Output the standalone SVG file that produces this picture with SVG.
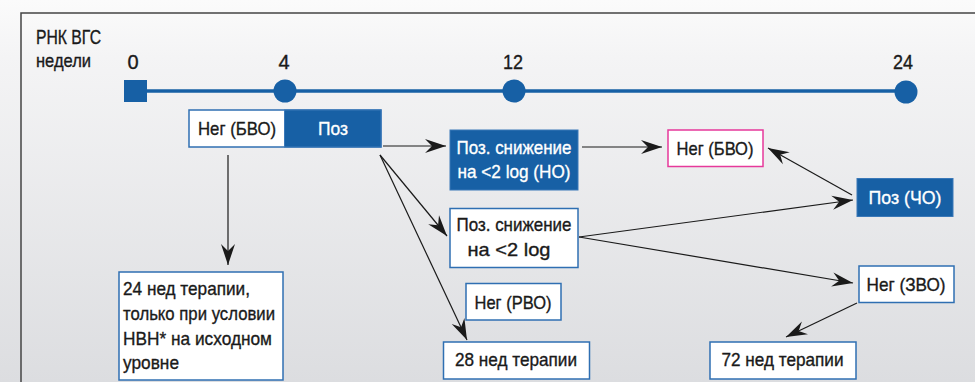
<svg xmlns="http://www.w3.org/2000/svg" width="975" height="382" viewBox="0 0 975 382">
<defs>
<linearGradient id="bg" x1="0" y1="0" x2="0" y2="1">
<stop offset="0" stop-color="#fbfbfb"/>
<stop offset="0.15" stop-color="#f4f4f5"/>
<stop offset="1" stop-color="#dcdde0"/>
</linearGradient>
<marker id="ah" markerUnits="userSpaceOnUse" markerWidth="24" markerHeight="16" viewBox="-22 -8 24 16" refX="0" refY="0" orient="auto">
<path d="M0,0 L-21,-7 L-14,0 L-21,7 Z" fill="#1a1a1a"/>
</marker>
<style>
text{font-family:"Liberation Sans",Arial,sans-serif;font-size:19px;fill:#1a1a1a;stroke:#1a1a1a;stroke-width:0.35}
.w{fill:#ffffff;stroke:#ffffff}
.c{text-anchor:middle}
.bx{fill:#ffffff;stroke:#2f6fb2;stroke-width:1.5}
.bf{fill:#1760a5;stroke:#3a78b8;stroke-width:1}
.pk{fill:#ffffff;stroke:#e6399b;stroke-width:1.5}
.ln{stroke:#1a1a1a;stroke-width:1.2;fill:none;marker-end:url(#ah)}
.tl{fill:#1760a5}
</style>
</defs>
<rect x="0" y="0" width="975" height="382" fill="url(#bg)"/>
<path d="M21,382 L21,13 L975,13" fill="none" stroke="#444" stroke-width="1.5"/>

<g id="header">
<text x="36" y="44" textLength="65" lengthAdjust="spacingAndGlyphs" style="font-size:20px">РНК ВГС</text>
<text x="36" y="67" textLength="55" lengthAdjust="spacingAndGlyphs">недели</text>
</g>

<g id="timeline">
<line x1="140" y1="91" x2="906" y2="91" stroke="#1760a5" stroke-width="3.5"/>
<rect class="tl" x="124" y="80" width="23" height="22"/>
<circle class="tl" cx="285" cy="91" r="11.5"/>
<circle class="tl" cx="514" cy="91" r="11.5"/>
<circle class="tl" cx="906" cy="92" r="11.5"/>
<text class="c" x="133" y="69" style="font-size:20px">0</text>
<text class="c" x="284" y="69" style="font-size:20px">4</text>
<text class="c" x="513" y="69" textLength="20" lengthAdjust="spacingAndGlyphs" style="font-size:20px">12</text>
<text class="c" x="903" y="69" textLength="20" lengthAdjust="spacingAndGlyphs" style="font-size:20px">24</text>
</g>

<g id="week4">
<rect class="bx" x="189" y="110" width="192" height="37"/>
<rect class="bf" x="284.5" y="110" width="96.5" height="37" stroke="none"/>
<text class="c" x="237" y="135" textLength="78" lengthAdjust="spacingAndGlyphs">Нег (БВО)</text>
<text class="c w" x="333" y="135" textLength="30" lengthAdjust="spacingAndGlyphs">Поз</text>
</g>

<g id="ho">
<rect class="bf" x="450" y="130" width="128" height="60"/>
<text class="c w" x="514" y="154" textLength="115" lengthAdjust="spacingAndGlyphs">Поз. снижение</text>
<text class="c w" x="514" y="178" textLength="113" lengthAdjust="spacingAndGlyphs">на &lt;2 log (НО)</text>
</g>

<g id="bvo">
<rect class="pk" x="668" y="130" width="95" height="36.5"/>
<text class="c" x="715" y="155" textLength="77" lengthAdjust="spacingAndGlyphs">Нег (БВО)</text>
</g>

<g id="cho">
<rect class="bf" x="857" y="178.5" width="96" height="38"/>
<text class="c w" x="905" y="204" textLength="73" lengthAdjust="spacingAndGlyphs">Поз (ЧО)</text>
</g>

<g id="lowered">
<rect class="bx" x="450" y="208.5" width="128" height="59"/>
<text class="c" x="514" y="231" textLength="115" lengthAdjust="spacingAndGlyphs">Поз. снижение</text>
<text class="c" x="509" y="256" textLength="83" lengthAdjust="spacingAndGlyphs">на &lt;2 log</text>
</g>

<g id="rvo">
<rect class="bx" x="466" y="283.5" width="95" height="36.5"/>
<text class="c" x="513" y="309" textLength="77" lengthAdjust="spacingAndGlyphs">Нег (РВО)</text>
</g>

<g id="zvo">
<rect class="bx" x="859" y="266" width="95" height="36.5"/>
<text class="c" x="906" y="291" textLength="79" lengthAdjust="spacingAndGlyphs">Нег (ЗВО)</text>
</g>

<g id="t24">
<rect class="bx" x="119" y="272" width="164" height="108"/>
<text x="123" y="295" textLength="127" lengthAdjust="spacingAndGlyphs">24 нед терапии,</text>
<text x="123" y="320" textLength="152" lengthAdjust="spacingAndGlyphs">только при условии</text>
<text x="123" y="345" textLength="149" lengthAdjust="spacingAndGlyphs">НВН* на исходном</text>
<text x="123" y="369" textLength="56" lengthAdjust="spacingAndGlyphs">уровне</text>
</g>

<g id="t28">
<rect class="bx" x="443.5" y="342" width="146" height="37"/>
<text class="c" x="516" y="366" textLength="122" lengthAdjust="spacingAndGlyphs">28 нед терапии</text>
</g>

<g id="t72">
<rect class="bx" x="710" y="342" width="146" height="37"/>
<text class="c" x="782.5" y="366" textLength="122" lengthAdjust="spacingAndGlyphs">72 нед терапии</text>
</g>

<g id="connectors">
<line class="ln" x1="228" y1="155" x2="228" y2="265"/>
<line class="ln" x1="383" y1="146" x2="446" y2="146"/>
<line class="ln" x1="380" y1="155" x2="447" y2="236"/>
<line class="ln" x1="380" y1="155" x2="467" y2="340"/>
<line class="ln" x1="582" y1="147" x2="662" y2="147"/>
<line class="ln" x1="852" y1="195" x2="768" y2="148"/>
<line class="ln" x1="579" y1="237" x2="853" y2="200"/>
<line class="ln" x1="579" y1="237" x2="853" y2="283"/>
<line class="ln" x1="857" y1="303" x2="786" y2="337"/>
</g>
</svg>
